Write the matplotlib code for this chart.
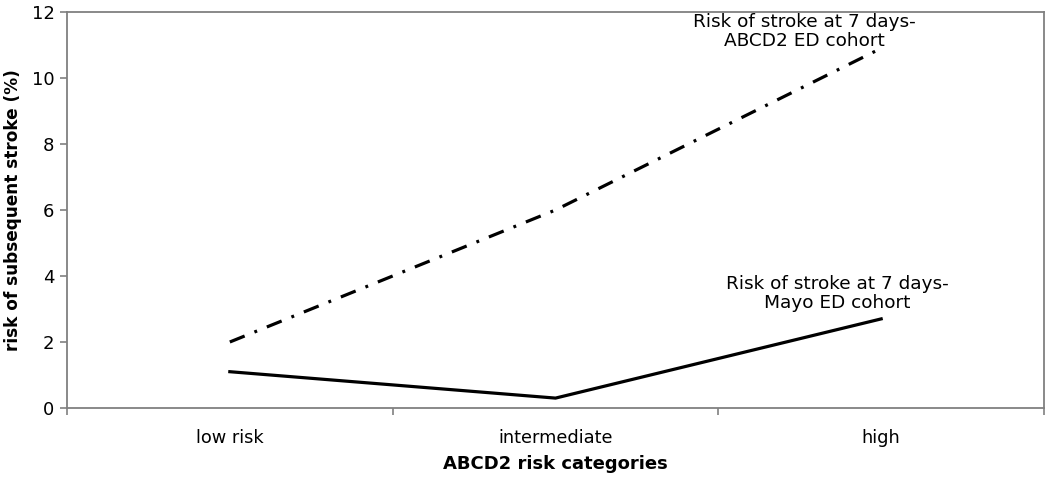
import matplotlib
matplotlib.use("Agg")
import matplotlib.pyplot as plt

# --- Data ---
CATEGORIES = ["low risk", "intermediate", "high"]
ABCD2_RISK = [2.0, 6.0, 10.9]
MAYO_RISK = [1.1, 0.3, 2.7]
ABCD2_LABEL = "Risk of stroke at 7 days-\nABCD2 ED cohort"
MAYO_LABEL = "Risk of stroke at 7 days-\nMayo ED cohort"

plt.rcParams["font.family"] = ["DejaVu Sans"]

fig = plt.figure(figsize=(10.5, 4.79), dpi=100)
ax = fig.add_axes([67 / 1050, 1 - 408 / 479, (1044 - 67) / 1050, (408 - 12) / 479])

x = list(range(len(CATEGORIES)))
ax.plot(x, ABCD2_RISK, color="black", linewidth=2.3,
        linestyle=(0, (5, 3.3, 0.9, 3.3)), solid_capstyle="butt",
        dash_capstyle="butt")
ax.plot(x, MAYO_RISK, color="black", linewidth=2.3)

# curve labels sit near the "high" end of each line
ax.text(2 - 0.235, 11.41, ABCD2_LABEL, ha="center", va="center",
        fontsize=13.3, linespacing=1.12)
ax.text(2 - 0.135, 3.47, MAYO_LABEL, ha="center", va="center",
        fontsize=13.3, linespacing=1.12)

ax.set_xlim(-0.5, 2.5)
ax.set_ylim(0, 12)
ax.set_yticks(range(0, 13, 2))
ax.set_xticks(x)
ax.set_xticklabels(CATEGORIES)
ax.set_xticks([-0.5, 0.5, 1.5, 2.5], minor=True)
ax.tick_params(axis="x", which="major", length=0, pad=15, labelsize=12.8)
ax.tick_params(axis="x", which="minor", length=5, width=1.2, color="#808080")
ax.tick_params(axis="y", length=5, width=1.2, color="#808080", labelsize=13, pad=4)

for side in ["left", "bottom", "right", "top"]:
    ax.spines[side].set_color("#808080")
    ax.spines[side].set_linewidth(1.3)

ax.set_xlabel("ABCD2 risk categories", fontsize=13, fontweight="bold", labelpad=6)
ax.set_ylabel("risk of subsequent stroke (%)", fontsize=12.2, fontweight="bold", labelpad=7)

fig.savefig("out.png", dpi=100)
